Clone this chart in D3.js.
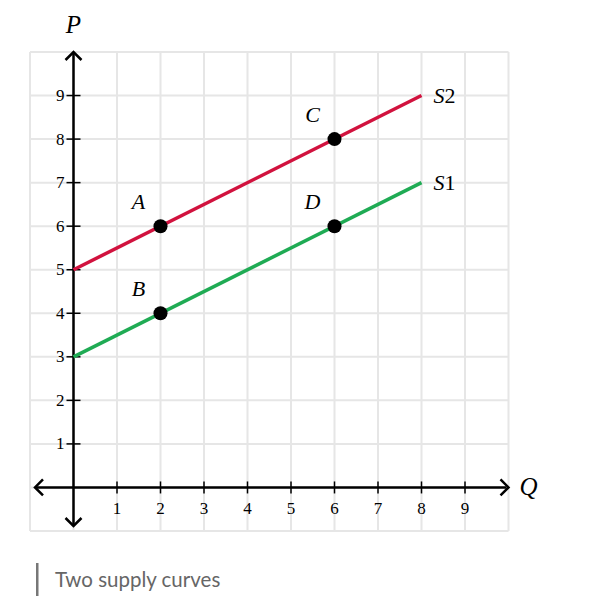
<!DOCTYPE html>
<html><head><meta charset="utf-8">
<script src="https://cdn.jsdelivr.net/npm/d3@7"></script>
<style>body{margin:0;background:#fff}</style>
</head><body>
<script>
const xTicks = [1,2,3,4,5,6,7,8,9];
const yTicks = [1,2,3,4,5,6,7,8,9];
const s2 = [[0,5],[8,9]];
const s1 = [[0,3],[8,7]];
const points = [{name:"A",q:2,p:6},{name:"B",q:2,p:4},{name:"C",q:6,p:8},{name:"D",q:6,p:6}];
const curveLabels = [{name:"S",sub:"2",q:8,p:9},{name:"S",sub:"1",q:8,p:7}];
const caption = "Two supply curves";

const W=598,H=612;
const svg=d3.select("body").append("svg").attr("width",W).attr("height",H);
const x=d3.scaleLinear().domain([-1,10]).range([30,508.5]);
const y=d3.scaleLinear().domain([-1,10]).range([531,52]);
const serif="'Liberation Serif','DejaVu Serif',serif";

// grid
const g=svg.append("g");
d3.range(-1,11).forEach(v=>{
  g.append("line").attr("x1",x(v)).attr("x2",x(v)).attr("y1",y(-1)).attr("y2",y(10)).attr("stroke","#e6e6e6").attr("stroke-width",2);
  g.append("line").attr("y1",y(v)).attr("y2",y(v)).attr("x1",x(-1)).attr("x2",x(10)).attr("stroke","#e6e6e6").attr("stroke-width",2);
});

// axes
const ax=svg.append("g").attr("stroke","#000").attr("stroke-width",2.5).attr("fill","none");
ax.append("line").attr("x1",x(-1)+5).attr("x2",x(10)-2).attr("y1",y(0)).attr("y2",y(0));
ax.append("line").attr("y1",y(-1)-5).attr("y2",y(10)+2).attr("x1",x(0)).attr("x2",x(0));
const ah=8;
ax.append("path").attr("d",`M${x(10)-ah},${y(0)-ah}L${x(10)},${y(0)}L${x(10)-ah},${y(0)+ah}`);
ax.append("path").attr("d",`M${x(-1)+ah+5},${y(0)-ah}L${x(-1)+5},${y(0)}L${x(-1)+ah+5},${y(0)+ah}`);
ax.append("path").attr("d",`M${x(0)-ah},${y(10)+ah}L${x(0)},${y(10)}L${x(0)+ah},${y(10)+ah}`);
ax.append("path").attr("d",`M${x(0)-ah},${y(-1)-ah-5}L${x(0)},${y(-1)-5}L${x(0)+ah},${y(-1)-ah-5}`);

// ticks
xTicks.forEach(v=>{
  svg.append("line").attr("x1",x(v)).attr("x2",x(v)).attr("y1",y(0)-6).attr("y2",y(0)+6).attr("stroke","#000").attr("stroke-width",1.5);
  svg.append("text").attr("x",x(v)).attr("y",y(0)+27).attr("text-anchor","middle").attr("font-family",serif).attr("font-size",17).text(v);
});
yTicks.forEach(v=>{
  svg.append("line").attr("y1",y(v)).attr("y2",y(v)).attr("x1",x(0)-7).attr("x2",x(0)+7).attr("stroke","#000").attr("stroke-width",1.5);
  svg.append("text").attr("x",x(0)-9).attr("y",y(v)+5.5).attr("text-anchor","end").attr("font-family",serif).attr("font-size",17).text(v);
});

// axis labels
svg.append("text").attr("x",x(0)).attr("y",33).attr("text-anchor","middle").attr("font-family",serif).attr("font-style","italic").attr("font-size",25).text("P");
svg.append("text").attr("x",x(10)+11).attr("y",y(0)+8).attr("font-family",serif).attr("font-style","italic").attr("font-size",25).text("Q");

// lines
const line=d3.line().x(d=>x(d[0])).y(d=>y(d[1]));
svg.append("path").attr("d",line(s2)).attr("stroke","#d1123e").attr("stroke-width",3.5).attr("fill","none");
svg.append("path").attr("d",line(s1)).attr("stroke","#1fab54").attr("stroke-width",3.5).attr("fill","none");

// curve labels
curveLabels.forEach(c=>{
  const t=svg.append("text").attr("x",x(c.q)+12).attr("y",y(c.p)+7.5).attr("font-family",serif).attr("font-size",22);
  t.append("tspan").attr("font-style","italic").text(c.name);
  t.append("tspan").text(c.sub);
});

// points
points.forEach(pt=>{
  svg.append("circle").attr("cx",x(pt.q)).attr("cy",y(pt.p)).attr("r",7).attr("fill","#000");
  svg.append("text").attr("x",x(pt.q)-22).attr("y",y(pt.p)-17).attr("text-anchor","middle").attr("font-family",serif).attr("font-style","italic").attr("font-size",22).text(pt.name);
});

// caption
svg.append("rect").attr("x",36).attr("y",563).attr("width",2.5).attr("height",33).attr("fill","#777");
svg.append("text").attr("x",55).attr("y",587).attr("font-family","Lato").attr("font-size",20.5).attr("fill","#666").text(caption);
</script>
</body></html>
